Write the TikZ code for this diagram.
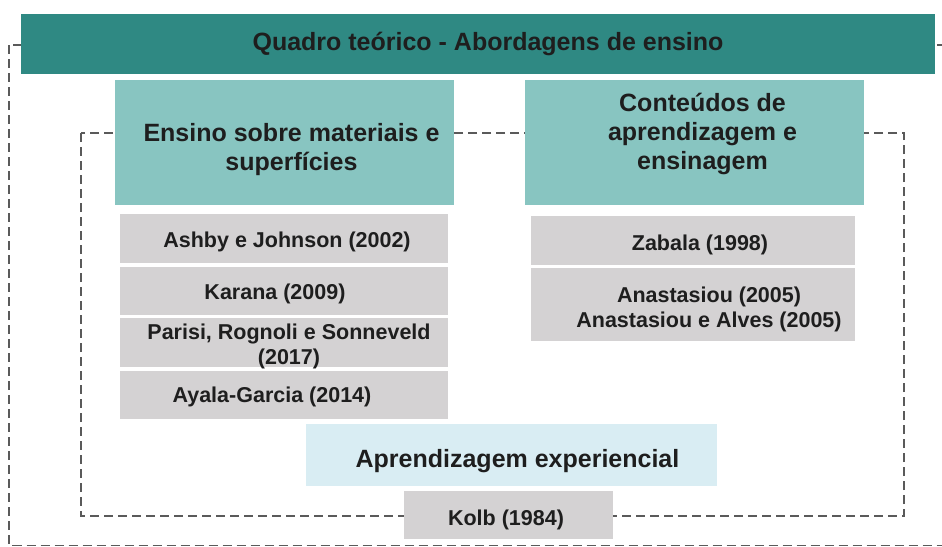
\documentclass[tikz,border=0pt]{standalone}
\usepackage{fontspec}
\setmainfont{Liberation Sans}
\definecolor{bardark}{HTML}{2F8983}
\definecolor{tealbox}{HTML}{88C5C1}
\definecolor{graybox}{HTML}{D4D2D3}
\definecolor{lightbox}{HTML}{D9EDF3}
\definecolor{dashgray}{HTML}{5A5A5A}
\definecolor{txt}{HTML}{1E1E1E}
\tikzset{
  boxbase/.style={rectangle, inner sep=0pt, outer sep=0pt},
  titlebar/.style={boxbase, fill=bardark},
  tealhead/.style={boxbase, fill=tealbox},
  lighthead/.style={boxbase, fill=lightbox},
  refbox/.style={boxbase, fill=graybox},
  bigtext/.style={inner sep=0pt, align=center, text=txt, font=\fontsize{25}{29}\selectfont\bfseries},
  reftext/.style={inner sep=0pt, align=center, text=txt, font=\fontsize{21.5}{24.5}\selectfont\bfseries},
  dashline/.style={draw=dashgray, line width=1.2pt, dash pattern=on 9pt off 5pt},
}
\begin{document}
\begin{tikzpicture}[x=1pt,y=-1pt]
\useasboundingbox (0,0) rectangle (942,546);
\fill[white] (0,0) rectangle (942,546);
% dashed frames (behind)
\coordinate (o1) at (9,45);
\coordinate (o2) at (950,545.5);
\draw[dashline] (o1) rectangle (o2);
\coordinate (i1) at (81,133);
\coordinate (i2) at (904,516);
\draw[dashline] (i1) rectangle (i2);
% title bar
\node[titlebar, minimum width=914pt, minimum height=60pt] (title) at (478,44) {};
\node[bigtext] (titletxt) at (488,44) {Quadro teórico - Abordagens de ensino};
% teal headers
\node[tealhead, minimum width=339pt, minimum height=125pt] (left) at (284.5,142.5) {};
\node[bigtext] (lefttxt) at (291.5,149.5) {Ensino sobre materiais e\\superfícies};
\node[tealhead, minimum width=339pt, minimum height=125pt] (right) at (694.5,142.5) {};
\node[bigtext] (righttxt) at (702.5,133.5) {Conteúdos de\\aprendizagem e\\ensinagem};
% left references
\node[refbox, minimum width=328pt, minimum height=49pt] (ashby) at (284,238.5) {};
\node[reftext] (ashbytxt) at (287,241.5) {Ashby e Johnson (2002)};
\node[refbox, minimum width=328pt, minimum height=48pt] (karana) at (284,291) {};
\node[reftext] (karanatxt) at (275,294) {Karana (2009)};
\node[refbox, minimum width=328pt, minimum height=49pt] (parisi) at (284,342.5) {};
\node[reftext] (parisitxt) at (289,346.5) {Parisi, Rognoli e Sonneveld\\(2017)};
\node[refbox, minimum width=328pt, minimum height=48pt] (ayala) at (284,395) {};
\node[reftext] (ayalatxt) at (272,397) {Ayala-Garcia (2014)};
% right references
\node[refbox, minimum width=324pt, minimum height=49pt] (zabala) at (693,240.5) {};
\node[reftext] (zabalatxt) at (700,244.5) {Zabala (1998)};
\node[refbox, minimum width=324pt, minimum height=73pt] (anast) at (693,304.5) {};
\node[reftext] (anasttxt) at (709,309.5) {Anastasiou (2005)\\Anastasiou e Alves (2005)};
% experiential
\node[lighthead, minimum width=411pt, minimum height=62pt] (exp) at (511.5,455) {};
\node[bigtext] (exptxt) at (517.5,461) {Aprendizagem experiencial};
\node[refbox, minimum width=209pt, minimum height=48pt] (kolb) at (508.5,515) {};
\node[reftext] (kolbtxt) at (506,520) {Kolb (1984)};
\end{tikzpicture}
\end{document}
